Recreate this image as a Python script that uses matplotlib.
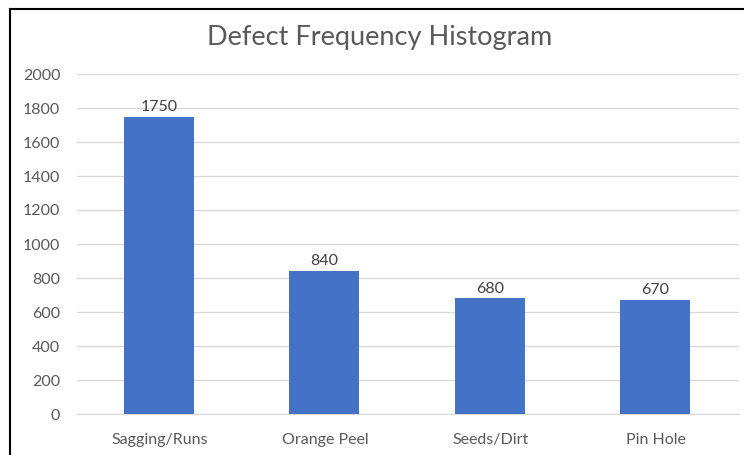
import matplotlib
matplotlib.use("Agg")
import matplotlib.pyplot as plt
import numpy as np
from matplotlib.lines import Line2D

# chart data
categories = ["Sagging/Runs", "Orange Peel", "Seeds/Dirt", "Pin Hole"]
defect_counts = [1750, 840, 680, 670]
y_ticks = [0, 200, 400, 600, 800, 1000, 1200, 1400, 1600, 1800, 2000]

plt.rcParams['font.family'] = ['Lato', 'DejaVu Sans']

fig = plt.figure(figsize=(7.44, 4.55), dpi=100)
ax = fig.add_axes([77 / 744, 41 / 455, 662 / 744, 340 / 455])

x = np.arange(len(categories))
bars = ax.bar(x - 0.006, defect_counts, width=0.424, color="#4472C4", zorder=3)

ax.set_xlim(-0.5, len(categories) - 0.5)
ax.set_ylim(0, 2000)
ax.set_yticks(y_ticks)
ax.set_xticks(x)
ax.set_xticklabels(categories)
ax.grid(axis="y", color="#D9D9D9", linewidth=1, zorder=0)
ax.tick_params(axis="both", length=0, labelsize=11.5, colors="#595959")
ax.tick_params(axis="x", pad=14)
ax.tick_params(axis="y", pad=12)
for side in ["left", "right", "top"]:
    ax.spines[side].set_visible(False)
ax.spines["bottom"].set_color("#D9D9D9")

# value labels on top of bars
for b, v in zip(bars, defect_counts):
    ax.annotate(str(v), (b.get_x() + b.get_width() / 2, v), xytext=(0, 2),
                textcoords="offset points", ha="center", va="bottom",
                fontsize=11.5, color="#404040")

fig.text(380 / 744, 1 - 37 / 455, "Defect Frequency Histogram", ha="center", va="center",
         fontsize=19.5, color="#595959")

# frame around chart (left and top edges visible in the crop)
fig.add_artist(Line2D([10 / 744, 10 / 744], [0, 1 - 9 / 455], color="black", linewidth=1.5,
                      transform=fig.transFigure))
fig.add_artist(Line2D([10 / 744, 1], [1 - 9 / 455, 1 - 9 / 455], color="black", linewidth=1.5,
                      transform=fig.transFigure))

fig.savefig("out.png", dpi=100)
